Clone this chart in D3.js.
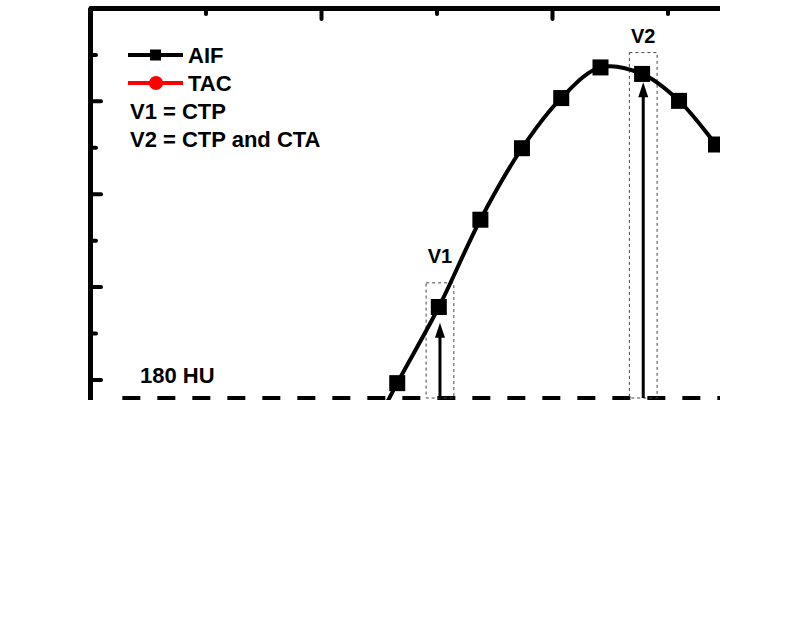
<!DOCTYPE html>
<html>
<head>
<meta charset="utf-8">
<script src="https://cdn.jsdelivr.net/npm/d3@7"></script>
<style>
  body { margin: 0; background: #fff; }
  text { font-family: "Liberation Sans", Arial, sans-serif; font-weight: bold; fill: #000; }
</style>
</head>
<body>
<div id="graph"></div>
<script>
// AIF curve (time, HU); first and last points lie outside the cropped view
const aifTime = [11.6, 13.3, 15.1, 16.9, 18.7, 20.4, 22.1, 23.9, 25.5, 27.1, 28.8];
const aifHU = [115, 196, 278, 372, 449, 503, 536, 529, 500, 453, 400];

// threshold line
const thresholdHU = 180;
const thresholdStart = 1.4;
const thresholdLabel = '180 HU';

// scan windows V1 and V2
const scanLabels = ['V1', 'V2'];
const scanTime = [15.15, 23.95];
const scanHalfWidth = [0.6, 0.6];
const scanBoxTop = [304, 552];
const scanArrowTip = [261, 520];
const scanLabelHU = [325, 562];

// tick values
const xMajorTicks = [0, 10, 20, 30];
const xMinorTicks = [5, 15, 25, 35];
const yMajorTicks = [200, 300, 400, 500];
const yMinorTicks = [150, 250, 350, 450, 550];

// legend rows
const legendSeries = ['AIF', 'TAC'];
const legendNotes = ['V1 = CTP', 'V2 = CTP and CTA'];

const width = 800;
const height = 637;

const svg = d3.select('#graph')
  .append('svg')
    .attr('width', width)
    .attr('height', height);

// the chart is a crop: everything outside this box is cut away
svg.append('defs')
  .append('clipPath')
    .attr('id', 'crop')
  .append('rect')
    .attr('x', 0)
    .attr('y', 0)
    .attr('width', 720)
    .attr('height', 400);

const g = svg.append('g').attr('clip-path', 'url(#crop)');

// Scales
const xScale = d3.scaleLinear()
  .domain([0, 40])
  .range([90, 90 + 40 * 23.1]);

const yScale = d3.scaleLinear()
  .domain([0, 600])
  .range([398 + 180 * 0.9286, 8]);

// Axes (ticks point inwards, no labels)
const styleAxis = (sel) => {
  sel.selectAll('text').remove();
  sel.select('.domain')
    .attr('stroke', '#000')
    .attr('stroke-width', 5);
  sel.selectAll('.tick line')
    .attr('stroke', '#000')
    .attr('stroke-width', 4)
    .attr('stroke-linecap', 'round');
};

g.append('g')
  .attr('transform', `translate(${xScale(0)},0)`)
  .call(d3.axisLeft(yScale).tickValues(yMinorTicks).tickSize(-6).tickSizeOuter(0).tickFormat(''))
  .call(styleAxis);
g.append('g')
  .attr('transform', `translate(${xScale(0)},0)`)
  .call(d3.axisLeft(yScale).tickValues(yMajorTicks).tickSize(-11).tickSizeOuter(0).tickFormat(''))
  .call(styleAxis);

g.append('g')
  .attr('transform', `translate(0,${yScale(600)})`)
  .call(d3.axisTop(xScale).tickValues(xMinorTicks).tickSize(-6).tickSizeOuter(0).tickFormat(''))
  .call(styleAxis);
g.append('g')
  .attr('transform', `translate(0,${yScale(600)})`)
  .call(d3.axisTop(xScale).tickValues(xMajorTicks).tickSize(-11).tickSizeOuter(0).tickFormat(''))
  .call(styleAxis);

// Threshold dashed line
g.append('line')
  .attr('x1', xScale(thresholdStart))
  .attr('x2', xScale(40))
  .attr('y1', yScale(thresholdHU))
  .attr('y2', yScale(thresholdHU))
  .attr('stroke', '#000')
  .attr('stroke-width', 4)
  .attr('stroke-dasharray', '18 17');

g.append('text')
  .attr('x', 140)
  .attr('y', 383)
  .style('font-size', '22px')
  .text(thresholdLabel);

// Scan windows
const scans = scanLabels.map((label, i) => ({
  label,
  t: scanTime[i],
  hw: scanHalfWidth[i],
  top: scanBoxTop[i],
  tip: scanArrowTip[i],
  labelHU: scanLabelHU[i]
}));

const scanG = g.selectAll('.scan')
  .data(scans)
  .join('g')
    .attr('class', 'scan');

scanG.append('rect')
  .attr('x', (d) => xScale(d.t - d.hw))
  .attr('y', (d) => yScale(d.top))
  .attr('width', (d) => xScale(d.t + d.hw) - xScale(d.t - d.hw))
  .attr('height', (d) => yScale(thresholdHU) - yScale(d.top))
  .attr('fill', 'none')
  .attr('stroke', '#444')
  .attr('stroke-width', 1)
  .attr('stroke-dasharray', '3 3');

scanG.append('line')
  .attr('x1', (d) => xScale(d.t))
  .attr('x2', (d) => xScale(d.t))
  .attr('y1', yScale(thresholdHU))
  .attr('y2', (d) => yScale(d.tip) + 10)
  .attr('stroke', '#000')
  .attr('stroke-width', 3);

scanG.append('path')
  .attr('d', (d) => {
    const x = xScale(d.t);
    const y = yScale(d.tip);
    return `M${x},${y}L${x - 5},${y + 15}L${x + 5},${y + 15}Z`;
  })
  .attr('fill', '#000');

scanG.append('text')
  .attr('x', (d) => xScale(d.t))
  .attr('y', (d) => yScale(d.labelHU))
  .attr('text-anchor', 'middle')
  .style('font-size', '20px')
  .text((d) => d.label);

// AIF curve
const aif = aifTime.map((t, i) => ({ t, hu: aifHU[i] }));

const line = d3.line()
  .x((d) => xScale(d.t))
  .y((d) => yScale(d.hu))
  .curve(d3.curveCatmullRom.alpha(0.5));

g.append('path')
  .datum(aif)
  .attr('d', line)
  .attr('fill', 'none')
  .attr('stroke', '#000')
  .attr('stroke-width', 4);

g.selectAll('.pt')
  .data(aif)
  .join('rect')
    .attr('class', 'pt')
    .attr('x', (d) => xScale(d.t) - 8)
    .attr('y', (d) => yScale(d.hu) - 8)
    .attr('width', 16)
    .attr('height', 16)
    .attr('fill', '#000');

// Legend
const legend = g.append('g').attr('transform', 'translate(128,0)');
const seriesColor = ['#000', '#f00'];

legendSeries.forEach((name, i) => {
  const y = 55 + i * 28;
  legend.append('line')
    .attr('x1', 0)
    .attr('x2', 55)
    .attr('y1', y)
    .attr('y2', y)
    .attr('stroke', seriesColor[i])
    .attr('stroke-width', 4);
  if (i === 0) {
    legend.append('rect')
      .attr('x', 22)
      .attr('y', y - 5.5)
      .attr('width', 11)
      .attr('height', 11)
      .attr('fill', seriesColor[i]);
  } else {
    legend.append('circle')
      .attr('cx', 28)
      .attr('cy', y)
      .attr('r', 7)
      .attr('fill', seriesColor[i]);
  }
  legend.append('text')
    .attr('x', 60)
    .attr('y', y + 8)
    .style('font-size', '22px')
    .text(name);
});

legendNotes.forEach((note, i) => {
  legend.append('text')
    .attr('x', 2)
    .attr('y', 119 + i * 28)
    .style('font-size', '22px')
    .text(note);
});
</script>
</body>
</html>
